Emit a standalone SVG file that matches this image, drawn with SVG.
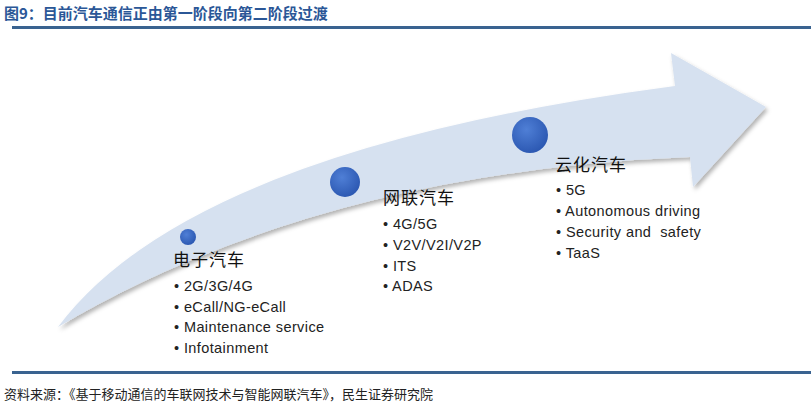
<svg xmlns="http://www.w3.org/2000/svg" width="811" height="410" viewBox="0 0 811 410">
<defs>
<radialGradient id="g" cx="0.4" cy="0.35" r="0.7"><stop offset="0" stop-color="#4f7fd6"/><stop offset="1" stop-color="#2a56b0"/></radialGradient>
<filter id="sh" x="-10%" y="-10%" width="130%" height="130%"><feDropShadow dx="2" dy="3" stdDeviation="2" flood-color="#000" flood-opacity="0.3"/></filter>
</defs>
<style>
.h{font-family:"Noto Sans CJK SC",sans-serif;font-size:17px;fill:#111;letter-spacing:1px}
.b{font-family:"Liberation Sans","Noto Sans CJK SC",sans-serif;font-size:14.5px;fill:#222;letter-spacing:0.4px}
</style>
<rect width="811" height="410" fill="#fff"/>
<text x="4" y="19" font-family="Noto Sans CJK SC,sans-serif" font-weight="bold" font-size="15" fill="#2b5797">图9：目前汽车通信正由第一阶段向第二阶段过渡</text>
<rect x="12" y="26" width="799" height="3" fill="#3a6390"/>
<g id="arrow"><path d="M58,327 Q190,150 675,86 L671,53 L766,107 L693,187 L690,157 Q320,172 58,327 Z" fill="#d6e1f0" filter="url(#sh)"/></g>
<g id="n1"><circle cx="188" cy="237" r="8" fill="url(#g)"/>
<text class="h" x="173" y="266">电子汽车</text>
<text class="b" x="174" y="291">• 2G/3G/4G</text><text class="b" x="174" y="312">• eCall/NG-eCall</text><text class="b" x="174" y="332">• Maintenance service</text><text class="b" x="174" y="353">• Infotainment</text></g>
<g id="n2"><circle cx="345" cy="182" r="15" fill="url(#g)"/>
<text class="h" x="383" y="204">网联汽车</text>
<text class="b" x="383" y="229">• 4G/5G</text><text class="b" x="383" y="250">• V2V/V2I/V2P</text><text class="b" x="383" y="271">• ITS</text><text class="b" x="383" y="291">• ADAS</text></g>
<g id="n3"><circle cx="530" cy="135" r="18" fill="url(#g)"/>
<text class="h" x="555" y="171">云化汽车</text>
<text class="b" x="556" y="195">• 5G</text><text class="b" x="556" y="216">• Autonomous driving</text><text class="b" x="556" y="237" xml:space="preserve">• Security and  safety</text><text class="b" x="556" y="258">• TaaS</text></g>
<g id="connectors"/>
<rect x="12" y="371" width="799" height="3" fill="#3a6390"/>
<text x="4" y="399" font-family="Noto Sans CJK SC,serif" font-size="13" fill="#222">资料来源：《基于移动通信的车联网技术与智能网联汽车》，民生证券研究院</text>
</svg>
